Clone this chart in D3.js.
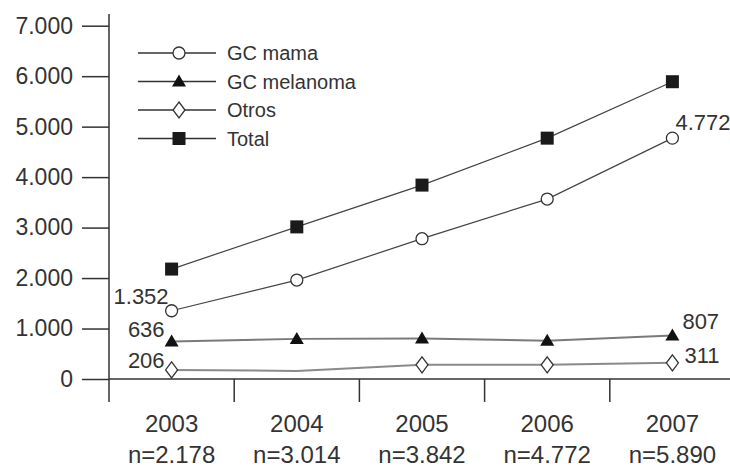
<!DOCTYPE html>
<meta charset="utf-8">
<script src="https://d3js.org/d3.v7.min.js"></script>
<style>
  body { margin: 0; background: #fff; }
  text { font-family: "Liberation Sans", Arial, sans-serif; fill: #333; }
</style>
<div id="my_dataviz"></div>
<script>
  // categories and values
  var years   = ["2003", "2004", "2005", "2006", "2007"];
  var nLabels = ["n=2.178", "n=3.014", "n=3.842", "n=4.772", "n=5.890"];

  var total    = [2178, 3014, 3842, 4772, 5890];
  var mama     = [1352, 1960, 2780, 3565, 4772];
  var melanoma = [745, 795, 800, 760, 860];
  var otros    = [180, 160, 280, 280, 320];
  // the 2004 "Otros" point has no marker in the original
  var otrosMarked = [true, false, true, true, true];

  var yTicks = [0, 1000, 2000, 3000, 4000, 5000, 6000, 7000];

  var width = 730, height = 469;

  var svg = d3.select("#my_dataviz")
    .append("svg")
      .attr("width", width)
      .attr("height", height);

  var x = d3.scaleBand().domain(years).range([109, 735]);
  var y = d3.scaleLinear().domain([0, 7000]).range([379, 25.7]);
  var cx = function(i) { return x(years[i]) + x.bandwidth() / 2; };

  var fmt = function(d) { return d3.format(",")(d).replace(/,/g, "."); };

  // marker shapes
  var shapes = {
    circle: function(g) { g.append("circle").attr("r", 6).attr("fill", "#fff").attr("stroke", "#333").attr("stroke-width", 1.3); },
    triangle: function(g) { g.append("path").attr("d", "M0,-7L7,5L-7,5Z").attr("fill", "#111"); },
    diamond: function(g) { g.append("path").attr("d", "M0,-8L6,0L0,8L-6,0Z").attr("fill", "#fff").attr("stroke", "#333").attr("stroke-width", 1.3); },
    square: function(g) { g.append("rect").attr("x", -6.5).attr("y", -6.5).attr("width", 13).attr("height", 13).attr("fill", "#1a1a1a"); }
  };

  var series = [
    {name: "GC mama",     values: mama,     shape: "circle",   color: "#444", w: 1.2},
    {name: "GC melanoma", values: melanoma, shape: "triangle", color: "#7a7a7a", w: 2},
    {name: "Otros",       values: otros,    shape: "diamond",  color: "#8a8a8a", w: 2},
    {name: "Total",       values: total,    shape: "square",   color: "#444", w: 1.2}
  ];

  // Y axis
  var yAxis = svg.append("g")
    .attr("transform", "translate(109,0)")
    .call(d3.axisLeft(y).tickValues(yTicks).tickSize(27).tickPadding(9).tickFormat(fmt));
  yAxis.select(".domain").remove();
  yAxis.selectAll("line").attr("stroke", "#333").attr("stroke-width", 1.5);
  yAxis.selectAll("text").attr("font-size", 23).attr("fill", "#333")
    .style("font-family", "'Liberation Sans', Arial, sans-serif");

  svg.append("line")
    .attr("x1", 109).attr("x2", 109).attr("y1", 14).attr("y2", 402)
    .attr("stroke", "#333").attr("stroke-width", 1.5);

  // X axis
  svg.append("line")
    .attr("x1", 109).attr("x2", width).attr("y1", y(0)).attr("y2", y(0))
    .attr("stroke", "#333").attr("stroke-width", 1.5);

  var bounds = years.map(function(d) { return x(d); }).concat([x.range()[1]]);
  svg.selectAll(".xtick").data(bounds.slice(1)).enter().append("line")
    .attr("x1", function(d) { return d; }).attr("x2", function(d) { return d; })
    .attr("y1", y(0)).attr("y2", 402)
    .attr("stroke", "#333").attr("stroke-width", 1.5);

  svg.selectAll(".year").data(years).enter().append("text")
    .attr("x", function(d, i) { return cx(i); })
    .attr("y", 432)
    .attr("text-anchor", "middle")
    .attr("font-size", 24)
    .text(function(d) { return d; });

  svg.selectAll(".nlab").data(nLabels).enter().append("text")
    .attr("x", function(d, i) { return cx(i); })
    .attr("y", 463)
    .attr("text-anchor", "middle")
    .attr("font-size", 24)
    .text(function(d) { return d; });

  // lines and markers
  var line = d3.line()
    .x(function(d, i) { return cx(i); })
    .y(function(d) { return y(d); });

  series.forEach(function(s) {
    svg.append("path")
      .datum(s.values)
      .attr("d", line)
      .attr("fill", "none")
      .attr("stroke", s.color)
      .attr("stroke-width", s.w);
  });

  series.forEach(function(s) {
    s.values.forEach(function(v, i) {
      if (s.name === "Otros" && !otrosMarked[i]) return;
      var g = svg.append("g").attr("transform", "translate(" + cx(i) + "," + y(v) + ")");
      shapes[s.shape](g);
    });
  });

  // value labels
  var labels = [
    {text: "1.352", values: mama,     i: 0, dx: -3, dy: -7, anchor: "end"},
    {text: "636",   values: melanoma, i: 0, dx: -7, dy: -4, anchor: "end"},
    {text: "206",   values: otros,    i: 0, dx: -7, dy: -2, anchor: "end"},
    {text: "4.772", values: mama,     i: 4, dx: 3,  dy: -8, anchor: "start"},
    {text: "807",   values: melanoma, i: 4, dx: 10, dy: -7, anchor: "start"},
    {text: "311",   values: otros,    i: 4, dx: 12, dy: 0,  anchor: "start"}
  ];
  svg.selectAll(".vlab").data(labels).enter().append("text")
    .attr("x", function(d) { return cx(d.i) + d.dx; })
    .attr("y", function(d) { return y(d.values[d.i]) + d.dy; })
    .attr("text-anchor", function(d) { return d.anchor; })
    .attr("font-size", 22)
    .text(function(d) { return d.text; });

  // legend
  var legendY = [53, 81.5, 110, 138.5];
  series.forEach(function(s, k) {
    var ly = legendY[k];
    svg.append("line")
      .attr("x1", 138).attr("x2", 216).attr("y1", ly).attr("y2", ly)
      .attr("stroke", "#333").attr("stroke-width", 1.3);
    var g = svg.append("g").attr("transform", "translate(179," + ly + ")");
    shapes[s.shape](g);
    svg.append("text")
      .attr("x", 227).attr("y", ly + 7)
      .attr("font-size", 20)
      .text(s.name);
  });
</script>
